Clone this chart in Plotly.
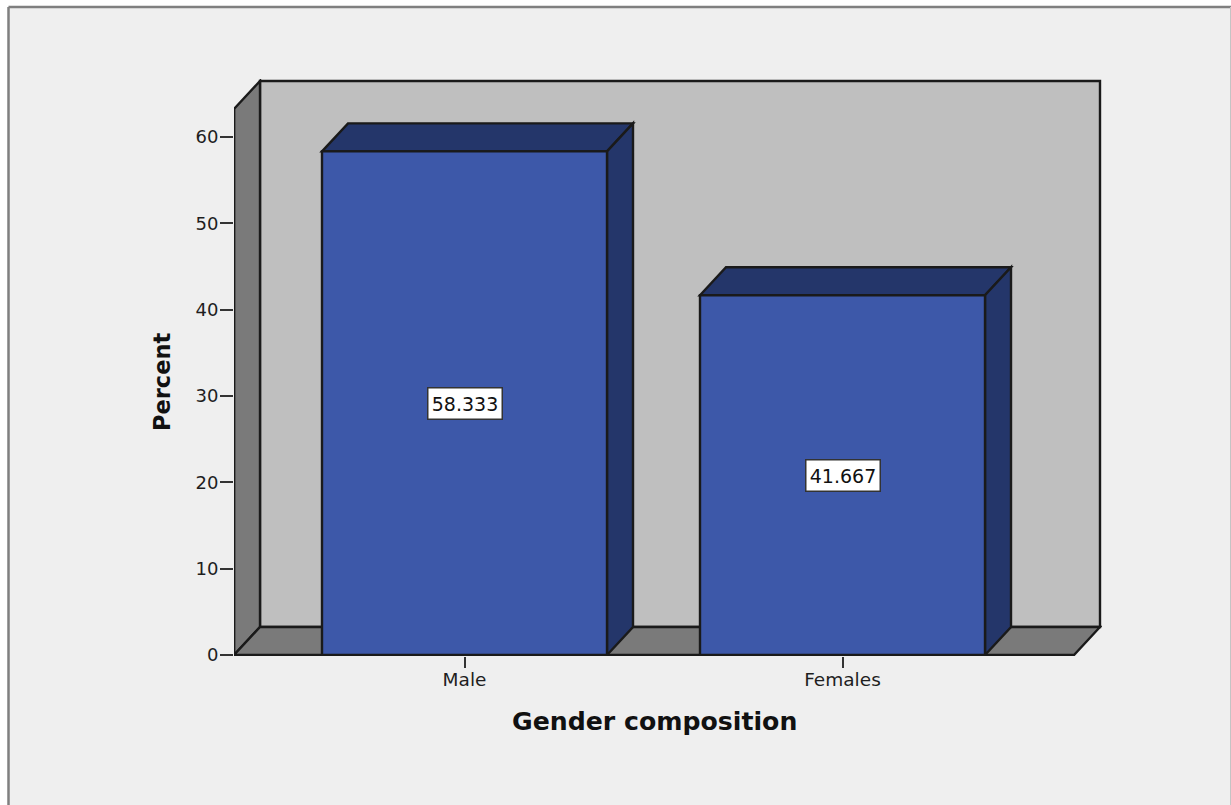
import plotly.graph_objects as go

categories = ["Male", "Females"]
percent = [58.333, 41.667]
value_labels = ["58.333", "41.667"]
y_ticks = [0, 10, 20, 30, 40, 50, 60]

W, H = 1231, 805
L, R, T, B = 234, 1102, 79, 656          # plot rectangle in pixels
X0, XU = 464.5, 378.0                    # pixel of category 0, pixels per category
Y0, YU = 655.0, 518 / 60                 # pixel of value 0, pixels per percent
DX, DY = 26 / XU, 28 / YU                # depth of the 3-D box in data units
BAR_W = 285 / XU
X_L, X_R = (234 - X0) / XU, (1074 - X0) / XU
Y_TOP = (655 - 109) / YU

FRONT, SIDE = "#3D58A9", "#24366A"
WALL, DARK = "#BFBFBF", "#7A7A7A"
INK = "#1A1A1A"
TXT = "#1E1E1E"
FONT = "DejaVu Sans"
LW = 2.4


def poly(pts, fill, lw=LW):
    path = "M" + " L".join(f"{x},{y}" for x, y in pts) + " Z"
    return dict(type="path", path=path, xref="x", yref="y", fillcolor=fill,
                line=dict(color=INK, width=lw), layer="below")


px = lambda p: (p - L) / (R - L)
py = lambda p: (B - p) / (B - T)


def edge(x0, y0, x1, y1, color, width):
    return dict(type="line", xref="paper", yref="paper", x0=px(x0), x1=px(x1), y0=py(y0), y1=py(y1),
                line=dict(color=color, width=width), layer="below")


shapes = [
    dict(type="rect", xref="paper", yref="paper", x0=px(8.5), x1=px(1230), y0=py(7), y1=py(820),
         fillcolor="#EFEFEF", line=dict(width=0), layer="below"),
    edge(8.5, 7, 1231, 7, "#7F7F7F", 2.5),
    edge(8.5, 7, 8.5, 820, "#7F7F7F", 2.5),
    edge(1230.5, 7, 1230.5, 820, "#C4C4C4", 1),
    poly([(X_L + DX, DY), (X_R + DX, DY), (X_R + DX, Y_TOP + DY), (X_L + DX, Y_TOP + DY)], WALL),
    poly([(X_L, 0), (X_L + DX, DY), (X_L + DX, Y_TOP + DY), (X_L, Y_TOP)], DARK),
    poly([(X_L, 0), (X_R, 0), (X_R + DX, DY), (X_L + DX, DY)], DARK),
]
for i, v in enumerate(percent):
    a, b = i - BAR_W / 2, i + BAR_W / 2
    shapes.append(poly([(a, v), (b, v), (b + DX, v + DY), (a + DX, v + DY)], SIDE))
    shapes.append(poly([(b, 0), (b, v), (b + DX, v + DY), (b + DX, DY)], SIDE))

annotations = [
    dict(x=i, y=v / 2, xref="x", yref="y", text=value_labels[i], showarrow=False,
         font=dict(family=FONT, size=19, color="#111111"), bgcolor="white",
         bordercolor="#333333", borderwidth=1.5, borderpad=1, width=71, height=28)
    for i, v in enumerate(percent)
]
annotations += [
    dict(x=px(654), y=py(721), xref="paper", yref="paper", text="<b>Gender composition</b>",
         xanchor="center", yanchor="middle", showarrow=False,
         font=dict(family=FONT, size=25.2, color="#111111")),
    dict(x=px(162), y=py(382), xref="paper", yref="paper", text="<b>Percent</b>", textangle=-90,
         xanchor="center", yanchor="middle", showarrow=False,
         font=dict(family=FONT, size=22.5, color="#111111")),
]

fig = go.Figure()
fig.add_trace(go.Bar(
    x=[0, 1], y=percent, width=BAR_W, marker=dict(color=FRONT, line=dict(color=INK, width=LW)),
    hoverinfo="skip", showlegend=False,
))
# front-left edge of the box, kept unclipped so it joins the tick marks
fig.add_trace(go.Scatter(
    x=[X_L, X_L], y=[0, Y_TOP], mode="lines", cliponaxis=False,
    line=dict(color=INK, width=LW), hoverinfo="skip", showlegend=False,
))

fig.update_layout(
    width=W, height=H, autosize=False,
    margin=dict(l=L, r=W - R, t=T, b=H - B, pad=0),
    paper_bgcolor="white", plot_bgcolor="rgba(0,0,0,0)",
    shapes=shapes, annotations=annotations, showlegend=False,
    xaxis=dict(range=[(L - X0) / XU, (R - X0) / XU], tickvals=[0, 1], ticktext=categories,
               ticks="outside", ticklen=11, tickwidth=2, tickcolor="#333333",
               ticklabelstandoff=-4,
               showgrid=False, zeroline=False, showline=False,
               tickfont=dict(family=FONT, size=18.5, color=TXT)),
    yaxis=dict(range=[(Y0 - B) / YU, (Y0 - T) / YU], tickvals=y_ticks,
               ticks="outside", ticklen=13, tickwidth=2, tickcolor="#333333",
               ticklabelstandoff=-2,
               showgrid=False, zeroline=False, showline=False,
               tickfont=dict(family=FONT, size=18, color=TXT)),
)

fig.write_html("out.html", config={"displayModeBar": False},
               post_script="document.body.style.margin='0';")
